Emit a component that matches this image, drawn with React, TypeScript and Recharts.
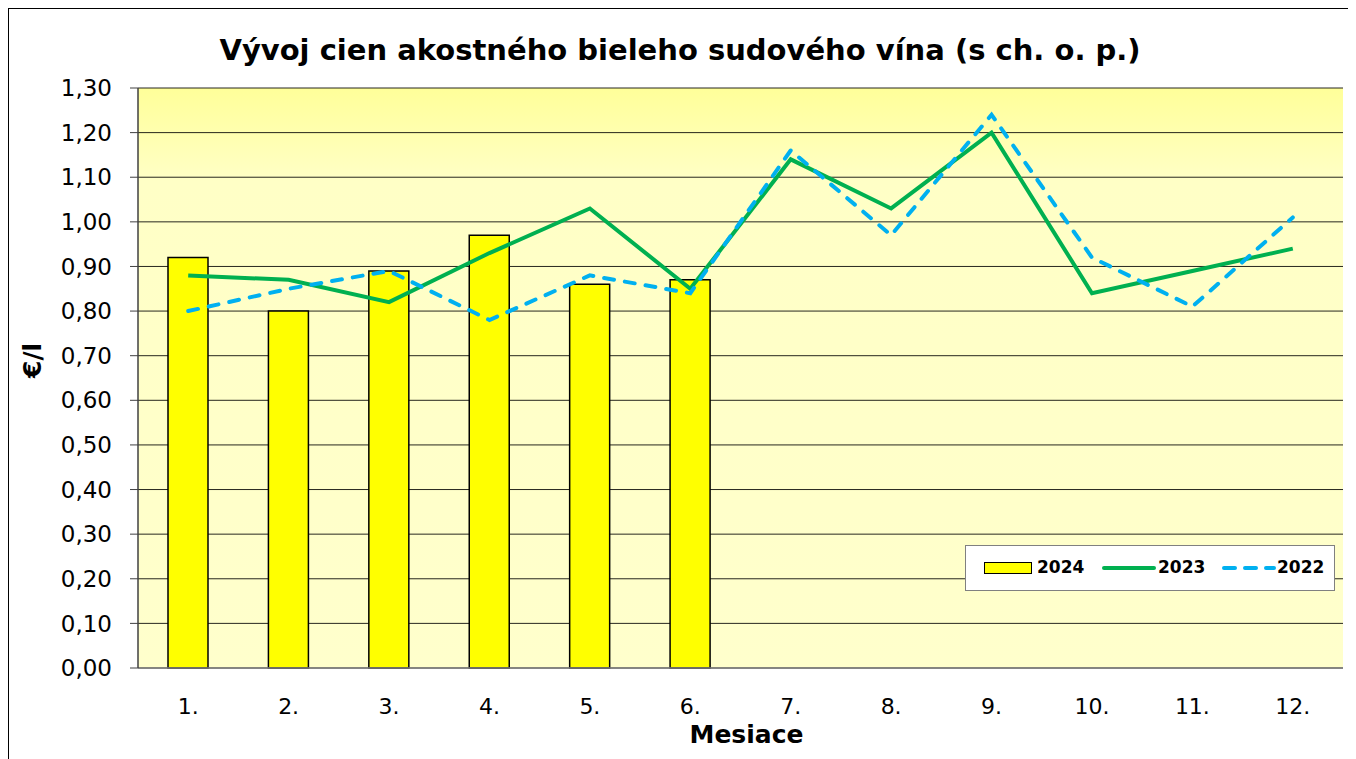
import {
  ComposedChart,
  Bar,
  Line,
  XAxis,
  YAxis,
  CartesianGrid,
} from 'recharts';

const months = ['1.', '2.', '3.', '4.', '5.', '6.', '7.', '8.', '9.', '10.', '11.', '12.'];
const price2024 = [0.92, 0.8, 0.89, 0.97, 0.86, 0.87, null, null, null, null, null, null];
const price2023 = [0.88, 0.87, 0.82, 0.93, 1.03, 0.85, 1.14, 1.03, 1.2, 0.84, 0.89, 0.94];
const price2022 = [0.8, 0.85, 0.89, 0.78, 0.88, 0.84, 1.16, 0.97, 1.24, 0.92, 0.81, 1.01];
const yTicks = [0, 0.1, 0.2, 0.3, 0.4, 0.5, 0.6, 0.7, 0.8, 0.9, 1.0, 1.1, 1.2, 1.3];
const bandTicks = [0, 1, 2, 3, 4, 5, 6, 7, 8, 9, 10, 11, 12];

const data = months.map((m, i) => ({
  month: m,
  y2024: price2024[i],
  y2023: price2023[i],
  y2022: price2022[i],
}));

const FONT = '"DejaVu Sans", Verdana, sans-serif';

// legenda v ramceku vpravo dole, ako v exceli
const LegendBox = () => (
  <div
    style={{
      position: 'absolute',
      left: 956,
      top: 536,
      width: 370,
      height: 46,
      background: '#fff',
      border: '1px solid #808080',
      boxSizing: 'border-box',
      fontFamily: FONT,
      fontWeight: 700,
      fontSize: 17,
      color: '#000',
    }}
  >
    <div
      style={{
        position: 'absolute',
        left: 18,
        top: 16,
        width: 48,
        height: 12,
        background: '#ffff00',
        border: '1.5px solid #000',
        boxSizing: 'border-box',
      }}
    />
    <span style={{ position: 'absolute', left: 71, top: 11 }}>2024</span>
    <svg width={56} height={10} style={{ position: 'absolute', left: 135, top: 17 }}>
      <line x1={3} y1={5} x2={53} y2={5} stroke="#00b050" strokeWidth={4} strokeLinecap="round" />
    </svg>
    <span style={{ position: 'absolute', left: 192, top: 11 }}>2023</span>
    <svg width={56} height={10} style={{ position: 'absolute', left: 255, top: 17 }}>
      <line x1={3} y1={5} x2={53} y2={5} stroke="#00b0f0" strokeWidth={4} strokeLinecap="round" strokeDasharray="11 10" />
    </svg>
    <span style={{ position: 'absolute', left: 311, top: 11 }}>2022</span>
  </div>
);

export default function App() {
  return (
    <div
      style={{
        position: 'relative',
        width: 1348,
        height: 751,
        borderTop: '1px solid #000',
        borderLeft: '1px solid #000',
        background: '#fff',
        boxSizing: 'border-box',
        fontFamily: FONT,
      }}
    >
      <div
        style={{
          position: 'absolute',
          left: 0,
          width: 1342,
          top: 24,
          textAlign: 'center',
          fontSize: 29,
          fontWeight: 700,
          color: '#000',
          whiteSpace: 'nowrap',
        }}
      >
        Vývoj cien akostného bieleho sudového vína (s ch. o. p.)
      </div>
      <ComposedChart
        width={1340}
        height={748}
        data={data}
        margin={{ top: 79, right: 6, bottom: 0, left: 0 }}
        style={{ fontFamily: FONT }}
      >
        <defs>
          <linearGradient id="plotFill" x1="0" y1="0" x2="0" y2="1">
            <stop offset="0%" stopColor="#ffff99" />
            <stop offset="16%" stopColor="#ffffc6" />
            <stop offset="100%" stopColor="#ffffcc" />
          </linearGradient>
        </defs>
        <CartesianGrid
          vertical={false}
          stroke="#000"
          strokeOpacity={0.85}
          fill="url(#plotFill)"
          fillOpacity={1}
        />
        <XAxis
          dataKey="month"
          height={89}
          axisLine={{ stroke: '#808080', strokeWidth: 1.5 }}
          tickLine={false}
          tick={{ fill: '#000', fontSize: 22 }}
          tickMargin={24}
          interval={0}
          label={{ value: 'Mesiace', position: 'insideBottom', offset: 14, dx: 6, fill: '#000', fontSize: 25, fontWeight: 700 }}
        />
        <XAxis
          xAxisId="bands"
          type="number"
          domain={[0, 12]}
          ticks={bandTicks}
          height={0}
          axisLine={false}
          tickSize={8}
          tickLine={{ stroke: '#808080', strokeWidth: 1.5 }}
          tickFormatter={() => ''}
        />
        <YAxis
          domain={[0, 1.3]}
          ticks={yTicks}
          width={129}
          interval={0}
          axisLine={{ stroke: '#404040', strokeWidth: 1.5 }}
          tickSize={8}
          tickLine={{ stroke: '#404040' }}
          tickMargin={18}
          tick={{ fill: '#000', fontSize: 23 }}
          tickFormatter={(v: number) => v.toFixed(2).replace('.', ',')}
          label={{ value: '€/l', angle: -90, position: 'insideLeft', offset: 23, fill: '#000', fontSize: 25, fontWeight: 700 }}
        />
        <YAxis
          yAxisId="frame"
          orientation="right"
          width={0}
          tick={false}
          tickLine={false}
          axisLine={{ stroke: '#a0a0a0', strokeWidth: 1.5 }}
        />
        <Bar
          dataKey="y2024"
          name="2024"
          fill="#ffff00"
          stroke="#000"
          strokeWidth={1.5}
          barSize={40}
          isAnimationActive={false}
        />
        <Line
          dataKey="y2023"
          name="2023"
          stroke="#00b050"
          strokeWidth={4}
          dot={false}
          activeDot={false}
          isAnimationActive={false}
        />
        <Line
          dataKey="y2022"
          name="2022"
          stroke="#00b0f0"
          strokeWidth={4}
          strokeDasharray="10 11"
          strokeLinecap="round"
          dot={false}
          activeDot={false}
          isAnimationActive={false}
        />
      </ComposedChart>
      <LegendBox />
    </div>
  );
}
